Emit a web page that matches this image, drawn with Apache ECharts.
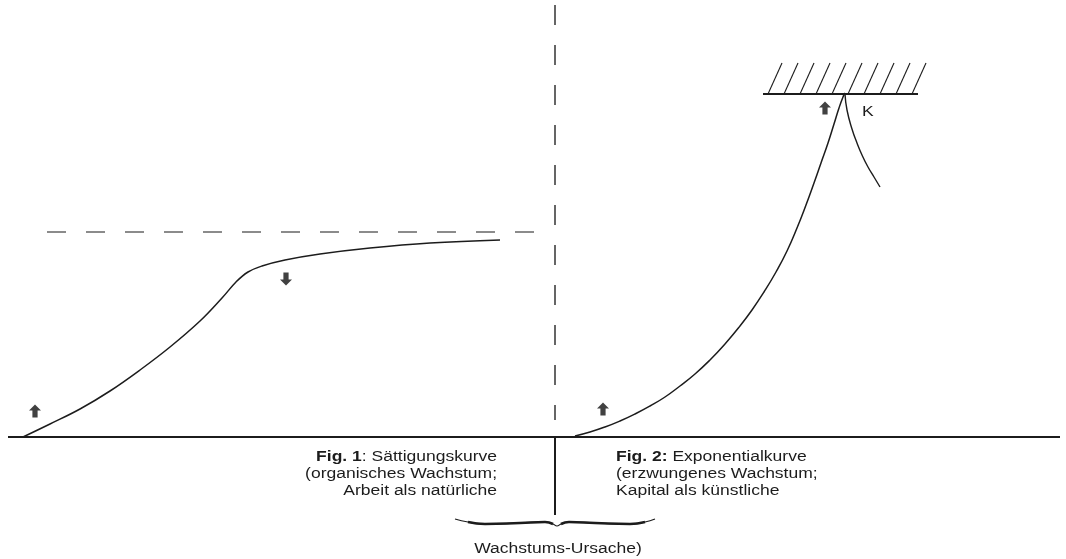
<!DOCTYPE html>
<html>
<head>
<meta charset="utf-8">
<script src="https://cdn.jsdelivr.net/npm/echarts@6/dist/echarts.min.js"></script>
<style>
html,body{margin:0;padding:0;background:#fff;}
#chart{width:1066px;height:559px;}
</style>
</head>
<body>
<div id="chart"></div>
<script>
// ---- data (diagram units: x = time, y = growth above baseline) ----
const satX = [23, 50, 80, 110, 140, 170, 200, 222, 236, 248, 262, 285, 320, 370, 430, 500];
const satY = [0, 13, 28, 46, 67, 90, 116, 139, 155, 165, 171, 177, 183, 189, 194, 197];
const satLimitX = [47, 537];
const satLimitY = 205;

const expX = [575, 590, 605, 620, 635, 650, 665, 680, 695, 710, 725, 740, 752, 764, 776, 787, 797, 806, 814, 821, 828, 834, 839, 843, 845];
const expY = [1, 5, 10, 16, 23, 31, 40, 51, 63, 77, 93, 111, 127, 145, 165, 186, 209, 232, 254, 274, 294, 313, 329, 340, 344];
const branchX = [845, 847, 852, 857, 862, 868, 874, 880];
const branchY = [343, 327, 308, 294, 282, 270, 260, 250];

const capLimitX = [763, 918];
const capLimitY = 343;
const hatchBaseX = [768, 784, 800, 816, 832, 848, 864, 880, 896, 912];
const hatchTopY = 374;

const baseX = [8, 1060];
const dividerX = 555;
const dividerY = [432, 17];
const stemY = [0, -78];

const braceX = [455, 468, 485, 520, 545, 553, 557, 561, 569, 595, 630, 645, 655];
const braceY = [-82, -85, -87, -86, -85, -87, -89, -87, -85, -86, -87, -85, -82];

const arrowsUp = [[35, 26], [603, 28], [825, 329]];
const arrowsDown = [[286, 158]];

const labels = {
  fig1: ['Fig. 1', ': Sättigungskurve', '(organisches Wachstum;', 'Arbeit als natürliche'],
  fig2: ['Fig. 2:', ' Exponentialkurve', '(erzwungenes Wachstum;', 'Kapital als künstliche'],
  cause: 'Wachstums-Ursache)',
  k: 'K'
};

// ---- build ----
const zip = (xs, ys) => xs.map((x, i) => [x, ys[i]]);
const ink = '#1c1c1c';
const lineSeries = (data, width, extra) => Object.assign({
  type: 'line', data, showSymbol: false, symbol: 'none', silent: true,
  lineStyle: { color: ink, width }
}, extra || {});

const arrowPath = 'path://M6,0 L12,6 L8.6,6 L8.6,13 L3.4,13 L3.4,6 L0,6 Z';
const FONT = '"Liberation Sans", Arial, sans-serif';
const SX = 1.25;

const chart = echarts.init(document.getElementById('chart'));
chart.setOption({
  animation: false,
  backgroundColor: '#ffffff',
  grid: { left: 0, right: 0, top: 0, bottom: 0, containLabel: false },
  xAxis: { type: 'value', min: 0, max: 1066, show: false },
  yAxis: { type: 'value', min: -122, max: 437, show: false },
  series: [
    lineSeries(zip(baseX, [0, 0]), 2),
    lineSeries([[dividerX, dividerY[0]], [dividerX, dividerY[1]]], 1.5, { lineStyle: { color: '#333', width: 1.5, type: [20, 20] } }),
    lineSeries([[dividerX, stemY[0]], [dividerX, stemY[1]]], 2),
    lineSeries(zip(satLimitX, [satLimitY, satLimitY]), 1.5, { lineStyle: { color: '#666', width: 1.5, type: [19, 20] } }),
    lineSeries(zip(satX, satY), 1.5, { smooth: 0.4 }),
    lineSeries(zip(expX, expY), 1.5, { smooth: 0.5 }),
    lineSeries(zip(branchX, branchY), 1.4, { smooth: 0.5 }),
    lineSeries(zip(capLimitX, [capLimitY, capLimitY]), 2),
    {
      type: 'lines', coordinateSystem: 'cartesian2d', silent: true,
      lineStyle: { color: ink, width: 1.1, opacity: 1 },
      data: hatchBaseX.map(x => ({ coords: [[x, capLimitY], [x + 14, hatchTopY]] }))
    },
    lineSeries(zip(braceX, braceY), 1.2, { smooth: 0.5 }),
    lineSeries(zip(braceX.slice(1, 6), braceY.slice(1, 6)), 2.6, { smooth: 0.5 }),
    lineSeries(zip(braceX.slice(7, 12), braceY.slice(7, 12)), 2.6, { smooth: 0.5 }),
    {
      type: 'scatter', data: arrowsUp, symbol: arrowPath, symbolSize: [12, 13], silent: true,
      itemStyle: { color: '#111' }
    },
    {
      type: 'scatter', data: arrowsDown, symbol: arrowPath, symbolRotate: 180, symbolSize: [12, 13], silent: true,
      itemStyle: { color: '#111' }
    }
  ],
  graphic: [
    {
      type: 'text', x: 497, y: 449, scaleX: SX, silent: true,
      style: {
        text: '{b|' + labels.fig1[0] + '}' + labels.fig1[1] + '\n' + labels.fig1[2] + '\n' + labels.fig1[3],
        fontFamily: FONT, fontSize: 14, lineHeight: 17, fill: ink,
        align: 'right', verticalAlign: 'top',
        rich: { b: { fontFamily: FONT, fontSize: 14, fontWeight: 'bold', lineHeight: 17, fill: ink } }
      }
    },
    {
      type: 'text', x: 616, y: 449, scaleX: SX, silent: true,
      style: {
        text: '{b|' + labels.fig2[0] + '}' + labels.fig2[1] + '\n' + labels.fig2[2] + '\n' + labels.fig2[3],
        fontFamily: FONT, fontSize: 14, lineHeight: 17, fill: ink,
        align: 'left', verticalAlign: 'top',
        rich: { b: { fontFamily: FONT, fontSize: 14, fontWeight: 'bold', lineHeight: 17, fill: ink } }
      }
    },
    {
      type: 'text', x: 558, y: 549, scaleX: SX, silent: true,
      style: { text: labels.cause, fontFamily: FONT, fontSize: 14, fill: ink, align: 'center', verticalAlign: 'middle' }
    },
    {
      type: 'text', x: 862, y: 112, scaleX: SX, silent: true,
      style: { text: labels.k, fontFamily: FONT, fontSize: 14, fill: ink, align: 'left', verticalAlign: 'middle' }
    }
  ]
});
</script>
</body>
</html>
